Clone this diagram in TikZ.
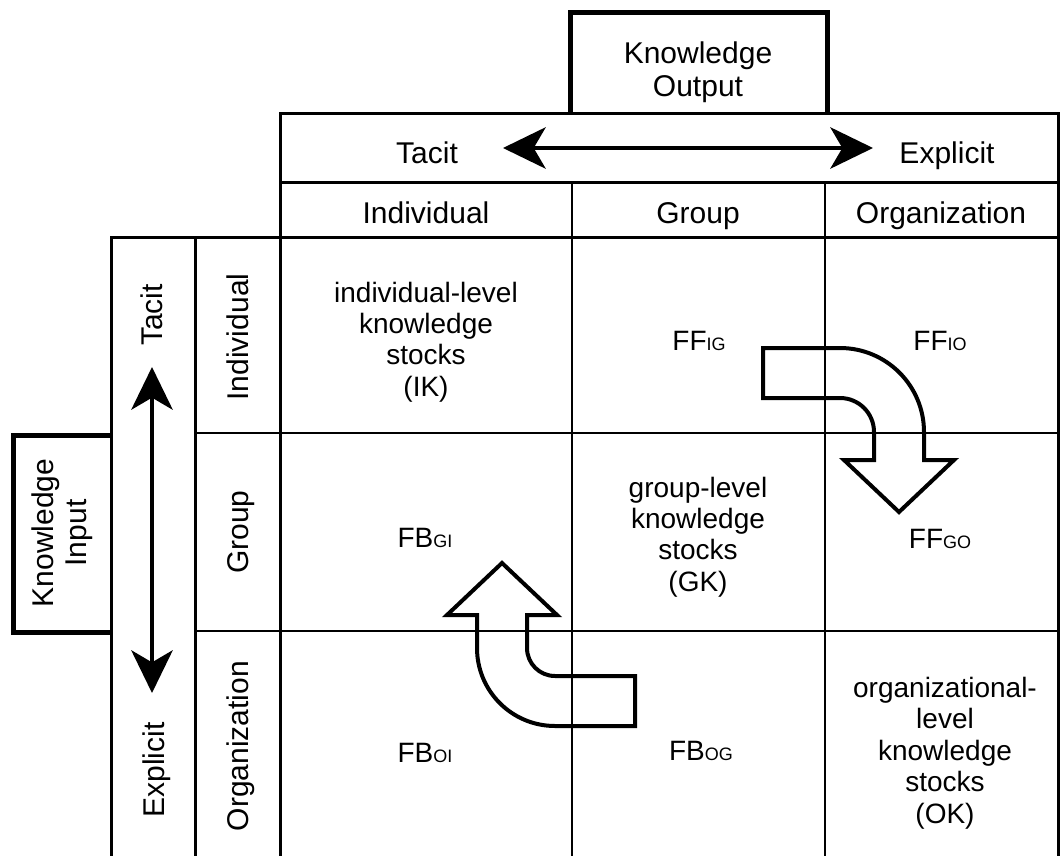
\documentclass[tikz,border=0pt]{standalone}
\usepackage{fontspec}
\setmainfont{Liberation Sans}
\usetikzlibrary{arrows.meta}
\tikzset{
  head/.style={align=center, inner sep=0pt, font=\fontsize{22.5}{25}\selectfont},
  cell/.style={align=center, inner sep=0pt, font=\fontsize{21}{23.6}\selectfont},
  oneline/.style={text height=16pt, text depth=0pt},
  frame/.style={line width=2.25pt},
  gridline/.style={line width=1.5pt},
  boxline/.style={line width=3.75pt, line join=miter},
  twoway/.style={{Stealth[length=32pt,width=31pt,inset=9pt]}-{Stealth[length=32pt,width=31pt,inset=9pt]}, line width=3pt},
  bendarrow/.style={line width=3pt, line join=miter},
}
\newcommand{\idx}[1]{{\fontsize{13.5}{14}\selectfont #1}}

\begin{document}
\begin{tikzpicture}[x=0.75pt, y=-0.75pt]
  \useasboundingbox (0,0) rectangle (1060,856);

  % outer boxes and bands
  \draw[boxline] (570,112) -- (570,13) -- (827,13) -- (827,112);
  \draw[boxline] (111,435) -- (13,435) -- (13,632) -- (111,632);
  \draw[frame] (280,856) -- (280,113) -- (1058,113) -- (1058,856);
  \draw[frame] (280,182) -- (1058,182);
  \draw[frame] (111,856) -- (111,237) -- (1058,237);
  \draw[frame] (195,237) -- (195,856);

  % grid
  \draw[gridline] (572,182) -- (572,856);
  \draw[gridline] (825,182) -- (825,856);
  \draw[gridline] (195,433) -- (1058,433);
  \draw[gridline] (195,631) -- (1058,631);

  % headings
  \node[head] (kout) at (698,72) {Knowledge\\Output};
  \node[head, rotate=90] (kin) at (62,533) {Knowledge\\Input};
  \node[head, oneline] (otacit) at (427,153) {Tacit};
  \node[head, oneline] (oexpl) at (947,153) {Explicit};
  \node[head, oneline, rotate=90] (itacit) at (152,315) {Tacit};
  \node[head, oneline, rotate=90] (iexpl) at (154,770) {Explicit};
  \node[head, oneline] (cind) at (426,213) {Individual};
  \node[head, oneline] (cgrp) at (698,213) {Group};
  \node[head, oneline] (corg) at (941,213) {Organization};
  \node[head, oneline, rotate=90] (rind) at (238,337) {Individual};
  \node[head, oneline, rotate=90] (rgrp) at (238,532) {Group};
  \node[head, oneline, rotate=90] (rorg) at (238,746) {Organization};

  % tacit <-> explicit
  \coordinate (hT) at (503,148);
  \coordinate (hE) at (873,148);
  \coordinate (vT) at (152,367);
  \coordinate (vE) at (152,693);
  \draw[twoway] (hT) -- (hE);
  \draw[twoway] (vT) -- (vE);

  % cells
  \node[cell] (ik) at (426,342) {individual-level\\knowledge\\stocks\\(IK)};
  \node[cell, oneline] (ffig) at (699,340) {FF\idx{IG}};
  \node[cell, oneline] (ffio) at (940,340) {FF\idx{IO}};
  \node[cell, oneline] (fbgi) at (425,537) {FB\idx{GI}};
  \node[cell] (gk) at (698,537) {group-level\\knowledge\\stocks\\(GK)};
  \node[cell, oneline] (ffgo) at (940,538) {FF\idx{GO}};
  \node[cell, oneline] (fboi) at (425,752) {FB\idx{OI}};
  \node[cell, oneline] (fbog) at (701,750) {FB\idx{OG}};
  \node[cell] (ok) at (945,753) {organizational-\\level\\knowledge\\stocks\\(OK)};

  % feed-forward and feed-back arrows
  \draw[bendarrow] (763,348) -- (840,348)
    .. controls (886.4,348) and (924,385.6) .. (924,432) -- (924,460) -- (954,460)
    -- (899,512) -- (844,460) -- (874,460) -- (874,432)
    .. controls (874,413.2) and (858.8,398) .. (840,398) -- (763,398) -- cycle;
  \draw[bendarrow] (635,676) -- (555,676)
    .. controls (539.5,676) and (527,663.5) .. (527,648) -- (527,615) -- (557,615)
    -- (502,563) -- (447,615) -- (477,615) -- (477,648)
    .. controls (477,691.1) and (511.9,726) .. (555,726) -- (635,726) -- cycle;
\end{tikzpicture}
\end{document}
